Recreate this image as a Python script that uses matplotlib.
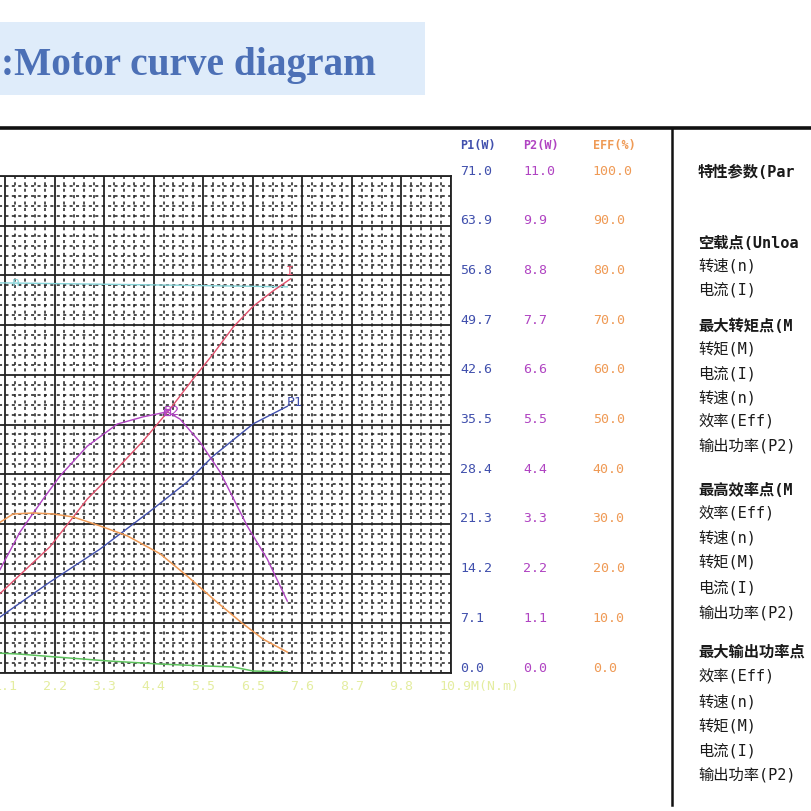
import matplotlib
matplotlib.use("Agg")
import matplotlib.pyplot as plt
from matplotlib.lines import Line2D
from matplotlib.patches import Rectangle
import numpy as np

W = H = 812

# torque axis, N.m (10 grid divisions of 1.09)
torque_max = 10.9
torque_step = 1.09
torque_labels = ["1.1", "2.2", "3.3", "4.4", "5.5", "6.5", "7.6", "8.7", "9.8", "10.9M(N.m)"]

# right hand scales
p1_ticks = [0.0, 7.1, 14.2, 21.3, 28.4, 35.5, 42.6, 49.7, 56.8, 63.9, 71.0]
p2_ticks = [0.0, 1.1, 2.2, 3.3, 4.4, 5.5, 6.6, 7.7, 8.8, 9.9, 11.0]
eff_ticks = [0.0, 10.0, 20.0, 30.0, 40.0, 50.0, 60.0, 70.0, 80.0, 90.0, 100.0]

# input power P1 (W)
p1_x = [0.96, 2.08, 3.18, 4.28, 5.10, 5.67, 6.55, 7.30]
p1_y = [7.9, 13.0, 17.7, 23.1, 27.3, 31.0, 35.6, 38.1]

# output power P2 (W)
p2_x = [0.96, 1.42, 1.93, 2.30, 2.90, 3.56, 4.13, 4.66, 4.94, 5.38, 5.82, 6.42, 6.86, 7.30]
p2_y = [2.25, 3.12, 3.85, 4.36, 5.02, 5.51, 5.67, 5.78, 5.62, 5.11, 4.45, 3.25, 2.52, 1.59]

# efficiency (%)
eff_x = [0.96, 1.27, 1.71, 2.15, 2.59, 3.18, 3.78, 4.50, 5.10, 5.67, 6.27, 6.77, 7.30]
eff_y = [30.2, 32.0, 32.2, 32.0, 31.4, 29.6, 27.6, 24.0, 19.5, 14.9, 10.3, 6.8, 4.2]

# current I, speed n and the unlabelled green curve: left scales are cut off,
# so these are in grid divisions (0..10)
cur_x = [0.96, 2.08, 2.90, 3.40, 4.13, 4.72, 5.23, 5.67, 6.11, 6.55, 6.99, 7.37]
cur_y = [1.58, 2.54, 3.50, 3.96, 4.67, 5.31, 5.92, 6.42, 6.96, 7.38, 7.69, 7.93]

spd_x = [0.96, 4.28, 7.30]
spd_y = [7.85, 7.81, 7.77]

grn_x = [0.96, 1.42, 2.24, 3.40, 4.50, 5.54, 6.11, 6.55, 7.30]
grn_y = [0.40, 0.38, 0.32, 0.24, 0.18, 0.14, 0.12, 0.04, 0.02]

# right side parameter list (headers are cut by the picture edge)
panel_text = [
    ("特性参数(Par", True),
    ("空载点(Unloa", True), ("转速(n)", False), ("电流(I)", False),
    ("最大转矩点(M", True), ("转矩(M)", False), ("电流(I)", False),
    ("转速(n)", False), ("效率(Eff)", False), ("输出功率(P2)", False),
    ("最高效率点(M", True), ("效率(Eff)", False), ("转速(n)", False),
    ("转矩(M)", False), ("电流(I)", False), ("输出功率(P2)", False),
    ("最大输出功率点", True), ("效率(Eff)", False), ("转速(n)", False),
    ("转矩(M)", False), ("电流(I)", False), ("输出功率(P2)", False),
]
panel_y = [172, 243, 266, 290, 326, 350, 374, 398, 422, 446,
           490, 514, 538, 563, 588, 613, 652, 677, 702, 727, 751, 775]

c_p1 = "#4150ad"
c_p2 = "#b044c2"
c_eff = "#ef9a55"
c_cur = "#e0506c"
c_spd = "#86d4d8"
c_grn = "#5cc25c"
c_tick = "#e4eda0"

mono = "DejaVu Sans Mono"
cjk = [mono, "Noto Sans CJK SC", "DejaVu Sans"]

fig = plt.figure(figsize=(W / 100, H / 100), dpi=100)


def fx(px):
    return px / W


def fy(py):
    return 1 - py / H


# title
fig.add_artist(Rectangle((0, fy(96)), fx(425), fy(23) - fy(96),
                         transform=fig.transFigure, color="#dfecfa", lw=0))
title = fig.text(fx(1), fy(75), ":Motor curve diagram", family="Liberation Serif",
                 weight="bold", color="#4c70b6", fontsize=28, va="baseline", ha="left")
fig.canvas.draw()
tw = title.get_window_extent().width
title.set_fontsize(28 * 376 / tw)

# separators
fig.add_artist(Line2D([0, 1], [fy(128.5), fy(128.5)], transform=fig.transFigure,
                      color="#111111", lw=2.6))
fig.add_artist(Line2D([fx(672), fx(672)], [fy(129), fy(806)], transform=fig.transFigure,
                      color="#111111", lw=1.8))

# chart area, the left part is outside the picture
x0, x1 = -44.6, 451
y0, y1 = 674, 177
ax = fig.add_axes([fx(x0), fy(y0), fx(x1) - fx(x0), fy(y1) - fy(y0)])
ax.set_xlim(0, torque_max)
ax.set_ylim(0, 10)
ax.set_xticks(np.arange(0, 11) * torque_step)
ax.set_xticks(np.arange(0, 51) * torque_step / 5, minor=True)
ax.set_yticks(np.arange(0, 11))
ax.set_yticks(np.arange(0, 51) / 5, minor=True)
ax.tick_params(which="both", length=0, labelbottom=False, labelleft=False)
ax.grid(which="minor", color="#1e1e1e", lw=1.1, ls=(0, (2.0, 2.2)))
ax.grid(which="major", color="#222222", lw=1.3)
for s in ax.spines.values():
    s.set_color("#222222")
    s.set_linewidth(1.3)
ax.set_axisbelow(True)

ax.plot(spd_x, spd_y, color=c_spd, lw=1.0, clip_on=False)
ax.plot(grn_x, grn_y, color=c_grn, lw=1.1, clip_on=False)
ax.plot(cur_x, cur_y, color=c_cur, lw=1.0, clip_on=False)

ax_p1 = ax.twinx()
ax_p2 = ax.twinx()
ax_eff = ax.twinx()
for a, top in ((ax_p1, p1_ticks[-1]), (ax_p2, p2_ticks[-1]), (ax_eff, eff_ticks[-1])):
    a.set_ylim(0, top)
    a.set_axis_off()

ax_p1.plot(p1_x, p1_y, color=c_p1, lw=1.0)
ax_p2.plot(p2_x, p2_y, color=c_p2, lw=1.0)
ax_eff.plot(eff_x, eff_y, color=c_eff, lw=1.1)

# curve labels
lab = dict(family=mono, fontsize=9.5, ha="center", va="center")
ax.annotate("n", (spd_x[0], spd_y[0]), xytext=(12, 1), textcoords="offset points",
            color=c_spd, **lab)
ax.annotate("I", (cur_x[-1], cur_y[-1]), xytext=(-0.5, 6), textcoords="offset points",
            color=c_cur, **lab)
ax_p1.annotate("P1", (p1_x[-1], p1_y[-1]), xytext=(5, 3.5), textcoords="offset points",
               color=c_p1, **lab)
k = int(np.argmax(p2_y))
ax_p2.plot([p2_x[k]], [p2_y[k]], marker="s", ms=5, mfc="none", mec=c_p2, mew=0.9)
ax_p2.annotate("P2", (p2_x[k], p2_y[k]), xytext=(3, 1), textcoords="offset points",
               color=c_p2, **lab)

# torque labels
for i, t in enumerate(torque_labels):
    xv = (i + 1) * torque_step
    last = i == len(torque_labels) - 1
    ax.annotate(t, (xv, 0), xycoords=("data", "axes fraction"),
                xytext=(-8 if last else 0, -9), textcoords="offset points",
                ha="left" if last else "center", va="center",
                family=mono, fontsize=9.5, color=c_tick)

# right scales
cols = [(ax_p1, p1_ticks, "P1(W)", c_p1, 6.5),
        (ax_p2, p2_ticks, "P2(W)", c_p2, 52),
        (ax_eff, eff_ticks, "EFF(%)", c_eff, 102)]
for a, ticks, head, col, dx in cols:
    for v in ticks:
        a.annotate(f"{v:.1f}", (1, v), xycoords=(ax.transAxes, a.transData),
                   xytext=(dx, 4.3), textcoords="offset points", ha="left", va="center",
                   family=mono, fontsize=9.5, color=col)
    a.annotate(head, (1, 1), xycoords="axes fraction", xytext=(dx, 23),
               textcoords="offset points", ha="left", va="center",
               family=mono, fontsize=8.5, weight="bold", color=col)

# parameter panel
for (t, bold), py in zip(panel_text, panel_y):
    fig.text(fx(698), fy(py), t, family=cjk, fontsize=11, ha="left", va="center",
             weight="bold" if bold else "normal", color="#1a1a1a")

fig.savefig("out.png", dpi=100)
